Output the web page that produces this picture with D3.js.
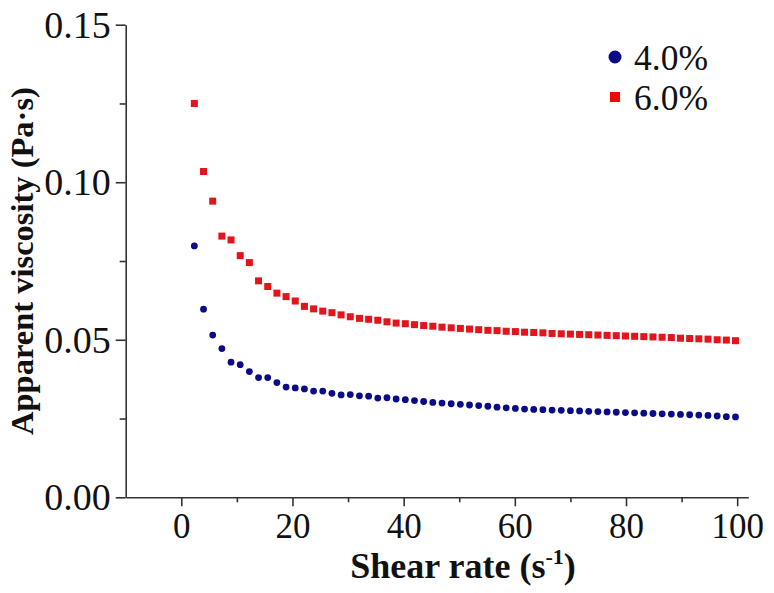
<!DOCTYPE html>
<html><head><meta charset="utf-8">
<script src="https://cdn.jsdelivr.net/npm/d3@7"></script>
<style>body{margin:0;background:#fff}svg{display:block}</style>
</head><body>
<svg id="c" width="774" height="593"></svg>
<script>
// ---- data ----
const shearRate = [2.35,4.0,5.65,7.3,8.95,10.6,12.25,13.9,15.55,17.2,18.85,20.5,22.15,23.8,25.45,27.1,28.75,30.4,32.05,33.7,35.35,37.0,38.65,40.3,41.95,43.6,45.25,46.9,48.55,50.2,51.85,53.5,55.15,56.8,58.45,60.1,61.75,63.4,65.05,66.7,68.35,70.0,71.65,73.3,74.95,76.6,78.25,79.9,81.55,83.2,84.85,86.5,88.15,89.8,91.45,93.1,94.75,96.4,98.05,99.7];
const visc40 = [0.0798,0.0597,0.0515,0.0472,0.0429,0.0421,0.0399,0.0380,0.0380,0.0364,0.0350,0.0347,0.0344,0.0337,0.0337,0.0330,0.0325,0.0326,0.0322,0.0321,0.0315,0.0316,0.0312,0.0310,0.0307,0.0304,0.0301,0.0299,0.0297,0.0295,0.0293,0.0291,0.0289,0.0286,0.0284,0.0282,0.0280,0.0279,0.0278,0.0277,0.0276,0.0275,0.0274,0.0273,0.0272,0.0271,0.0270,0.0269,0.0268,0.0267,0.0266,0.0265,0.0264,0.0263,0.0262,0.0261,0.0260,0.0258,0.0256,0.0255];
const visc60 = [0.1250,0.1034,0.0940,0.0829,0.0817,0.0767,0.0745,0.0687,0.0669,0.0648,0.0637,0.0623,0.0606,0.0598,0.0591,0.0586,0.0579,0.0573,0.0568,0.0565,0.0562,0.0557,0.0553,0.0551,0.0548,0.0545,0.0543,0.0540,0.0538,0.0536,0.0534,0.0532,0.0530,0.0529,0.0527,0.0526,0.0524,0.0523,0.0522,0.0520,0.0519,0.0518,0.0517,0.0516,0.0515,0.0514,0.0513,0.0512,0.0511,0.0510,0.0509,0.0508,0.0507,0.0505,0.0504,0.0503,0.0502,0.0500,0.0499,0.0497];
const seriesNames = ["4.0%","6.0%"];
const xTicks = [0,20,40,60,80,100];
const xMinorTicks = [10,30,50,70,90];
const yTicks = [0,0.05,0.10,0.15];
const yMinorTicks = [0.025,0.075,0.125];

// ---- layout ----
const svg = d3.select("#c");
const FONT = "'Liberation Serif','Times New Roman',serif";
const x = d3.scaleLinear().domain([-10,102]).range([125.7,748.3]);
const y = d3.scaleLinear().domain([0,0.15]).range([497.3,24.7]);
const axisColor = "#333";
const blue = "#0b0b8a", red = "#e3141c";

// x axis
const gx = svg.append("g").attr("transform",`translate(0,${y(0)})`);
gx.call(d3.axisBottom(x).tickValues(xTicks).tickSize(9).tickSizeOuter(0).tickFormat(d3.format("d")));
const gxm = svg.append("g").attr("transform",`translate(0,${y(0)})`);
gxm.call(d3.axisBottom(x).tickValues(xMinorTicks).tickSize(5).tickSizeOuter(0).tickFormat(""));
gxm.select(".domain").remove();
// y axis
const gy = svg.append("g").attr("transform",`translate(${x(-10)},0)`);
gy.call(d3.axisLeft(y).tickValues(yTicks).tickSize(10).tickSizeOuter(0).tickFormat(d3.format(".2f")));
const gym = svg.append("g").attr("transform",`translate(${x(-10)},0)`);
gym.call(d3.axisLeft(y).tickValues(yMinorTicks).tickSize(6).tickSizeOuter(0).tickFormat(""));
gym.select(".domain").remove();

svg.selectAll(".domain,.tick line").attr("stroke",axisColor).attr("stroke-width",1.6);
gx.selectAll(".tick text").attr("font-family",FONT).attr("font-size",35).attr("fill","#111").attr("y",41).attr("dy",0);
gy.selectAll(".tick text").attr("font-family",FONT).attr("font-size",38).attr("fill","#111").attr("x",-15).attr("dy","0.33em");

// data
svg.append("g").selectAll("circle").data(shearRate).join("circle")
  .attr("cx",(d)=>x(d)).attr("cy",(d,i)=>y(visc40[i])).attr("r",3.4).attr("fill",blue);
const s = 7;
svg.append("g").selectAll("rect").data(shearRate).join("rect")
  .attr("x",(d)=>x(d)-s/2).attr("y",(d,i)=>y(visc60[i])-s/2).attr("width",s).attr("height",s).attr("fill",red);

// legend
const lg = svg.append("g");
lg.append("circle").attr("cx",615).attr("cy",57).attr("r",6.5).attr("fill",blue);
lg.append("rect").attr("x",610).attr("y",92).attr("width",10).attr("height",10).attr("fill","#ff0000");
lg.append("text").attr("x",634).attr("y",70).text(seriesNames[0]);
lg.append("text").attr("x",634).attr("y",110).text(seriesNames[1]);
lg.selectAll("text").attr("font-family",FONT).attr("font-size",35.5).attr("fill","#111");

// axis titles
svg.append("text").attr("transform",`translate(33,${(y(0)+y(0.15))/2}) rotate(-90)`)
  .attr("text-anchor","middle").attr("font-family",FONT).attr("font-weight","bold").attr("font-size",32.5).attr("fill","#111")
  .text("Apparent viscosity (Pa·s)");
const xt = svg.append("text").attr("x",463).attr("y",578).attr("text-anchor","middle")
  .attr("font-family",FONT).attr("font-weight","bold").attr("font-size",36).attr("fill","#111");
xt.append("tspan").text("Shear rate (s");
xt.append("tspan").attr("font-size",22).attr("dy",-14).text("-1");
xt.append("tspan").attr("dy",14).text(")");
</script>
</body></html>
